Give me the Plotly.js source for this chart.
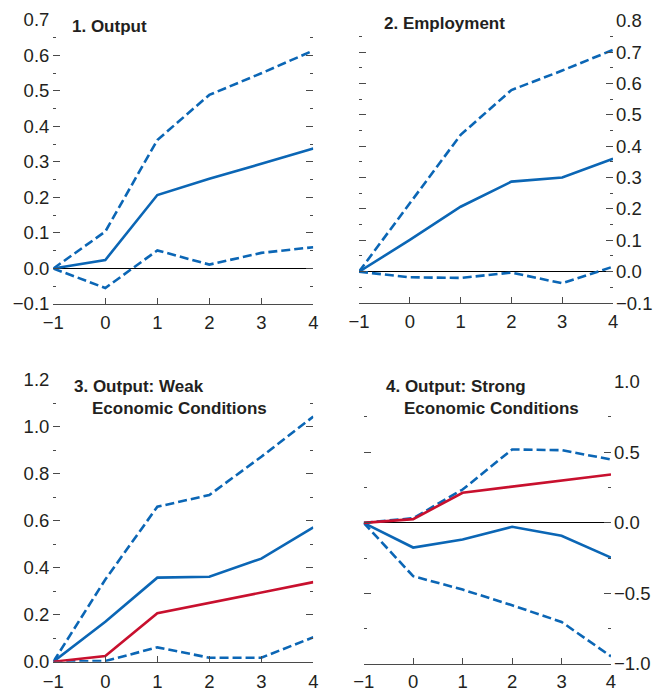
<!DOCTYPE html>
<html>
<head>
<meta charset="utf-8">
<script src="https://cdn.plot.ly/plotly-3.0.1.min.js"></script>
<style>html,body{margin:0;padding:0;background:#fff}#chart{width:656px;height:692px}</style>
</head>
<body>
<div id="chart"></div>
<script>
var horizon = [-1, 0, 1, 2, 3, 4];

// Panel 1: Output
var p1Mid   = [0, 0.024, 0.207, 0.253, 0.295, 0.338];
var p1Upper = [0, 0.104, 0.362, 0.489, 0.550, 0.614];
var p1Lower = [0, -0.055, 0.051, 0.011, 0.044, 0.060];

// Panel 2: Employment
var p2Mid   = [0, 0.101, 0.207, 0.287, 0.300, 0.360];
var p2Upper = [0, 0.220, 0.436, 0.579, 0.641, 0.707];
var p2Lower = [0, -0.018, -0.020, -0.003, -0.037, 0.016];

// Panel 3: Output, weak economic conditions
var p3Mid   = [0, 0.170, 0.358, 0.362, 0.439, 0.572];
var p3Upper = [0, 0.350, 0.660, 0.710, 0.873, 1.044];
var p3Lower = [0, 0.003, 0.061, 0.017, 0.017, 0.104];
var p3Base  = [0, 0.024, 0.206, 0.251, 0.295, 0.339];

// Panel 4: Output, strong economic conditions
var p4Mid   = [0, -0.175, -0.118, -0.028, -0.092, -0.246];
var p4Upper = [0, 0.033, 0.236, 0.520, 0.515, 0.449];
var p4Lower = [0, -0.378, -0.473, -0.584, -0.702, -0.946];
var p4Base  = [0, 0.026, 0.213, 0.255, 0.300, 0.343];

var titles = [
  ["1. Output"],
  ["2. Employment"],
  ["3. Output: Weak", "Economic Conditions"],
  ["4. Output: Strong", "Economic Conditions"]
];

var BLUE = "#0b66b5", RED = "#c8102e", AX = "#4a4a4a";
var FONT = "Liberation Sans";
var DASH = "9px,4px";

function line(y, xa, ya, color, dash) {
  return {x: horizon, y: y, xaxis: xa, yaxis: ya, type: "scatter", mode: "lines",
    line: {color: color, width: 2.6, dash: dash || "solid"}, hoverinfo: "skip", showlegend: false};
}

var traces = [
  line(p1Upper, "x", "y", BLUE, DASH), line(p1Lower, "x", "y", BLUE, DASH), line(p1Mid, "x", "y", BLUE),
  line(p2Upper, "x2", "y2", BLUE, DASH), line(p2Lower, "x2", "y2", BLUE, DASH), line(p2Mid, "x2", "y2", BLUE),
  line(p3Upper, "x3", "y3", BLUE, DASH), line(p3Lower, "x3", "y3", BLUE, DASH), line(p3Mid, "x3", "y3", BLUE), line(p3Base, "x3", "y3", RED),
  line(p4Upper, "x4", "y4", BLUE, DASH), line(p4Lower, "x4", "y4", BLUE, DASH), line(p4Mid, "x4", "y4", BLUE), line(p4Base, "x4", "y4", RED)
];

function xaxis(domain, anchor, standoff) {
  return {domain: domain, anchor: anchor, range: [-1, 4], dtick: 1, tick0: -1,
    showgrid: false, zeroline: false, showline: true, linecolor: AX, linewidth: 1,
    ticks: "inside", ticklen: 6, tickcolor: AX, tickwidth: 1, ticklabelstandoff: standoff,
    tickfont: {family: FONT, size: 18.5, color: "#231f20"}, fixedrange: true};
}
function yaxis(domain, anchor, range, dtick, minor, side) {
  return {domain: domain, anchor: anchor, range: range, dtick: dtick, tick0: 0, side: side,
    showgrid: false, zeroline: true, zerolinecolor: "#000", zerolinewidth: 1,
    showline: false, ticks: "inside", ticklen: 7, tickcolor: AX, tickwidth: 1, mirror: "ticks",
    minor: {ticks: "inside", ticklen: 3, dtick: minor, tick0: 0, tickcolor: AX, showgrid: false},
    tickformat: ".1f", ticklabelstandoff: side === "left" ? 3 : 2,
    tickfont: {family: FONT, size: 18.5, color: "#231f20"}, fixedrange: true};
}

var layout = {
  width: 656, height: 692, margin: {l: 0, r: 0, t: 0, b: 0},
  paper_bgcolor: "#fff", plot_bgcolor: "#fff", showlegend: false,
  xaxis:  xaxis([0.0813, 0.4776], "y", 2),
  yaxis:  yaxis([0.5607, 0.9711], "x", [-0.1, 0.7], 0.1, 0.05, "left"),
  xaxis2: xaxis([0.5473, 0.9345], "y2", 2),
  yaxis2: yaxis([0.5621, 0.9701], "x2", [-0.1, 0.8], 0.1, 0.05, "right"),
  xaxis3: xaxis([0.0813, 0.4776], "y3", 3),
  yaxis3: yaxis([0.0438, 0.4509], "x3", [0, 1.2], 0.2, 0.1, "left"),
  xaxis4: xaxis([0.5544, 0.9314], "y4", 1),
  yaxis4: yaxis([0.0405, 0.4484], "x4", [-1, 1], 0.5, 0.25, "right"),
  annotations: []
};

var titlePos = [
  [[70, 26]],
  [[382, 24]],
  [[72, 386], [90, 408]],
  [[384, 386], [402, 408]]
];
titles.forEach(function (lines, i) {
  lines.forEach(function (t, j) {
    layout.annotations.push({text: "<b>" + t + "</b>", xref: "paper", yref: "paper",
      x: titlePos[i][j][0] / 656, y: 1 - titlePos[i][j][1] / 692, xanchor: "left", yanchor: "middle",
      showarrow: false, font: {family: FONT, size: 17, color: "#231f20"}});
  });
});

Plotly.newPlot("chart", traces, layout, {staticPlot: true, displayModeBar: false});
</script>
</body>
</html>
